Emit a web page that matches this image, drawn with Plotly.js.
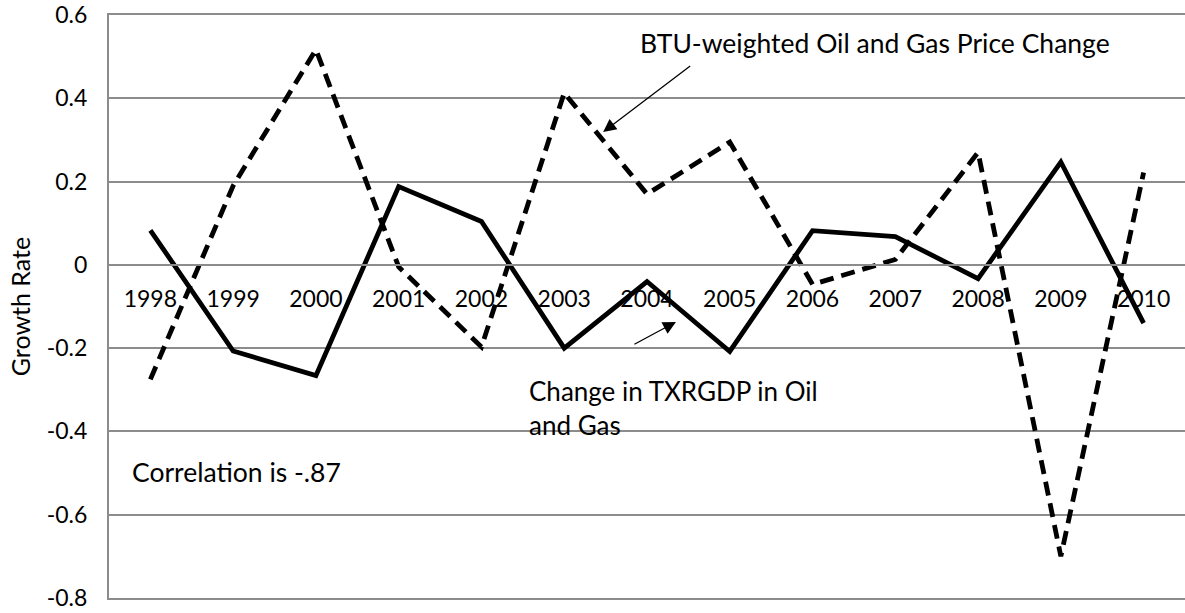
<!DOCTYPE html>
<html>
<head>
<meta charset="utf-8">
<script src="https://cdn.plot.ly/plotly-3.0.1.min.js"></script>
<style>
  html, body { margin: 0; padding: 0; background: #fff; }
  #plot { width: 1185px; height: 613px; }
</style>
</head>
<body>
<div id="plot"></div>
<script>
// Годы (категории)
const years = [1998, 1999, 2000, 2001, 2002, 2003, 2004, 2005, 2006, 2007, 2008, 2009, 2010];
const yearLabels = years.map(String);

// Изменение TXRGDP в нефти и газе (сплошная)
const txrgdpChange = [0.083, -0.207, -0.266, 0.188, 0.104, -0.2, -0.04, -0.208, 0.082, 0.068, -0.033, 0.247, -0.14];

// Изменение цены нефти и газа, взвешенной по BTU (пунктир)
const btuPriceChange = [-0.275, 0.19, 0.517, -0.005, -0.197, 0.413, 0.17, 0.295, -0.047, 0.013, 0.27, -0.7, 0.222];

// Подписи оси Y (с обычным дефисом, как в оригинале)
const yTickVals = [0.6, 0.4, 0.2, 0, -0.2, -0.4, -0.6, -0.8];
const yTickText = ["0.6", "0.4", "0.2", "0", "-0.2", "-0.4", "-0.6", "-0.8"];

const FONT = "Lato, 'Open Sans', sans-serif";
const GRID = "#8c8c8c";
const FS = 26.5;

const traceBtu = {
  x: years,
  y: btuPriceChange,
  mode: "lines",
  name: "BTU-weighted Oil and Gas Price Change",
  line: { color: "black", width: 4.8, dash: "14px,8px" },
  hoverinfo: "x+y",
};

const traceTx = {
  x: years,
  y: txrgdpChange,
  mode: "lines",
  name: "Change in TXRGDP in Oil and Gas",
  line: { color: "black", width: 4.8 },
  hoverinfo: "x+y",
};

// Пустой след для рамки сверху и снизу (ось xaxis2)
const traceFrame = {
  x: [],
  y: [],
  xaxis: "x2",
  yaxis: "y",
  mode: "lines",
  hoverinfo: "skip",
  showlegend: false,
};

const layout = {
  width: 1185,
  height: 613,
  margin: { l: 109, r: 0, t: 15, b: 15 },
  paper_bgcolor: "white",
  plot_bgcolor: "white",
  showlegend: false,
  font: { family: FONT, size: FS, color: "black" },
  xaxis: {
    range: [1997.5, 2010.5],
    tickvals: years,
    ticktext: yearLabels,
    anchor: "free",
    position: 0.8 / 1.4, // ось X проходит через 0
    showline: true,
    linecolor: GRID,
    linewidth: 2,
    showgrid: false,
    zeroline: false,
    ticks: "",
    ticklabelstandoff: 14,
    tickfont: { family: FONT, size: 23, color: "black" },
  },
  xaxis2: {
    range: [1997.5, 2010.5],
    overlaying: "x",
    anchor: "y",
    side: "bottom",
    showline: true,
    mirror: true,
    linecolor: GRID,
    linewidth: 2,
    showgrid: false,
    zeroline: false,
    showticklabels: false,
    ticks: "",
  },
  yaxis: {
    range: [-0.8, 0.6],
    tickvals: yTickVals,
    ticktext: yTickText,
    showline: true,
    linecolor: GRID,
    linewidth: 2,
    showgrid: true,
    gridcolor: GRID,
    gridwidth: 2,
    zeroline: false,
    ticks: "",
    ticklabelstandoff: 15,
    ticklabeloverflow: "allow",
    tickfont: { family: FONT, size: 23, color: "black" },
    title: { text: "Growth Rate", font: { family: FONT, size: 25, color: "black" }, standoff: 9 },
  },
  annotations: [
    {
      x: 2003.89, y: 0.533, xref: "x", yref: "y",
      text: "BTU-weighted Oil and Gas Price Change",
      showarrow: false, xanchor: "left", yanchor: "middle",
      font: { family: FONT, size: FS, color: "black" },
    },
    {
      x: 2003.47, y: 0.319, xref: "x", yref: "y",
      ax: 2004.54, ay: 0.48, axref: "x", ayref: "y",
      text: "", showarrow: true, arrowhead: 2, arrowsize: 2, arrowwidth: 1.3, arrowcolor: "black",
    },
    {
      x: 2002.55, y: -0.343, xref: "x", yref: "y",
      text: "Change in TXRGDP in Oil<br>and Gas", align: "left",
      showarrow: false, xanchor: "left", yanchor: "middle",
      font: { family: FONT, size: 26, color: "black" },
    },
    {
      x: 2004.35, y: -0.137, xref: "x", yref: "y",
      ax: 2003.83, ay: -0.1925, axref: "x", ayref: "y",
      text: "", showarrow: true, arrowhead: 2, arrowsize: 2, arrowwidth: 1.3, arrowcolor: "black",
    },
    {
      x: 1997.754, y: -0.4975, xref: "x", yref: "y",
      text: "Correlation is -.87",
      showarrow: false, xanchor: "left", yanchor: "middle",
      font: { family: FONT, size: FS, color: "black" },
    },
  ],
};

Plotly.newPlot("plot", [traceBtu, traceTx, traceFrame], layout, { staticPlot: true });
</script>
</body>
</html>
